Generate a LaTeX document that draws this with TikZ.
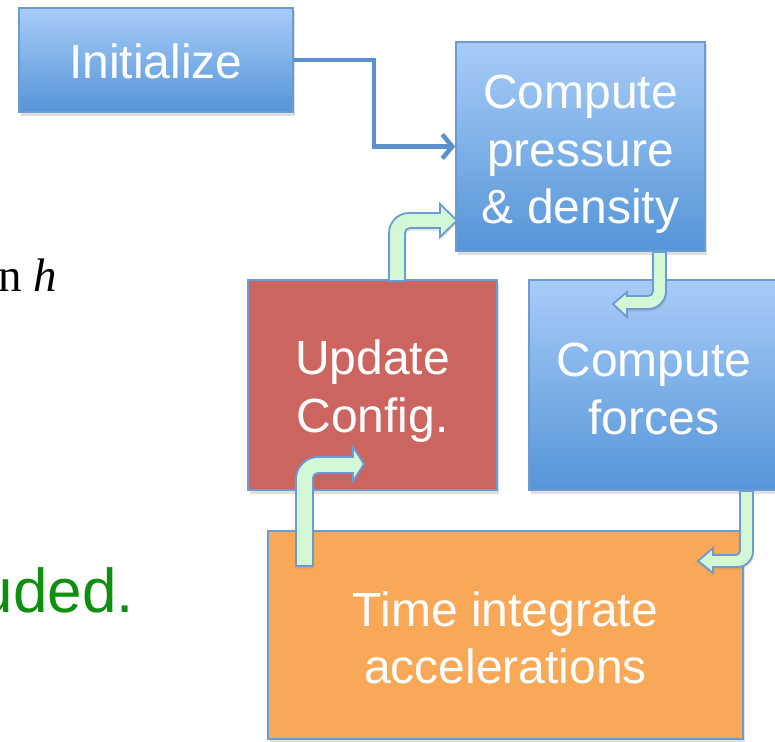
\documentclass[tikz,border=0pt]{standalone}
\usepackage{fontspec}
\setmainfont{Liberation Sans}
\newfontfamily\serifrm{Liberation Serif}
\usetikzlibrary{shadows,arrows.meta,calc}
\definecolor{bluetop}{HTML}{A8CCF8}
\definecolor{bluebot}{HTML}{5595D8}
\definecolor{bordblue}{HTML}{6B9BD2}
\definecolor{redbox}{HTML}{CC6560}
\definecolor{orangebox}{HTML}{F8A856}
\definecolor{greenarr}{HTML}{D3F8D5}
\definecolor{linkblue}{HTML}{5C90CC}
\definecolor{txtgreen}{HTML}{0E900E}
\begin{document}
\begin{tikzpicture}[x=1pt,y=-1pt,
  box/.style={rectangle, draw=bordblue, line width=1.5pt, inner sep=0pt,
    drop shadow={opacity=0.25, shadow xshift=1.5pt, shadow yshift=-3.5pt}},
  boxtext/.style={inner sep=0pt, text=white, align=center, font=\fontsize{48}{57.5}\selectfont},
  bluebox/.style={box, top color=bluetop, bottom color=bluebot},
  redbx/.style={box, fill=redbox},
  orbx/.style={box, fill=orangebox},
  blockarrow/.style={draw=bordblue, line width=1.8pt, fill=greenarr, line join=miter,
    drop shadow={opacity=0.22, shadow xshift=1pt, shadow yshift=-2.5pt}},
  conn/.style={draw=linkblue, line width=4.5pt, line join=miter,
    -{Straight Barb[length=10pt,width=24pt]}}
]
\useasboundingbox (0,0) rectangle (775,741);
\clip (0,0) rectangle (775,741);

% side texts (cut off by the picture edge)
\node[anchor=base west, inner sep=0pt, font=\serifrm\fontsize{47}{56}\selectfont] (sidea) at (-2,291) {n \textit{h}};
\node[anchor=base east, inner sep=0pt, text=txtgreen, font=\fontsize{62}{72}\selectfont] (sideb) at (134,612) {uded.};

% boxes
\node[bluebox, minimum width=274pt, minimum height=104pt] (init) at (156,60) {};
\node[bluebox, minimum width=249pt, minimum height=209pt] (press) at (580.5,146.5) {};
\node[redbx, minimum width=249pt, minimum height=210pt] (upd) at (372.5,385) {};
\node[bluebox, minimum width=250pt, minimum height=210pt] (forces) at (654,385) {};
\node[orbx, minimum width=475pt, minimum height=208pt] (time) at (505.5,635) {};

% box texts
\node[boxtext] (initt) at ($(init.center)+(0,1.5)$) {Initialize};
\node[boxtext] (presst) at ($(press.center)+(0,8)$) {Compute\\pressure\\\& density};
\node[boxtext] (updt) at ($(upd.center)+(0,6)$) {Update\\Config.};
\node[boxtext] (forcest) at ($(forces.center)+(0,4)$) {Compute\\forces};
\node[boxtext] (timet) at ($(time.center)+(0,3)$) {Time integrate\\accelerations};

% connector from Initialize
\draw[conn] (init.east) -- ++(80,0) |- (press.west);

% bent block arrows
% Update -> Compute pressure
\path[blockarrow] (389,281) -- (389,233) .. controls (389,222) and (398,213) .. (409,213)
  -- (440,213) -- (440,204) -- (457,220.5) -- (440,237) -- (440,228) -- (410,228)
  .. controls (407,228) and (405,230) .. (405,233) -- (405,281) -- cycle;
% Compute pressure -> Compute forces
\path[blockarrow] (653,252) -- (666,252) -- (666,291) .. controls (666,301) and (658,309) .. (648,309)
  -- (627,309) -- (627,317) -- (613,304) -- (627,292) -- (627,296) -- (648,296)
  .. controls (651,296) and (653,294) .. (653,291) -- cycle;
% Compute forces -> Time integrate
\path[blockarrow] (740,491) -- (753,491) -- (753,551) .. controls (753,560) and (746,567) .. (737,567)
  -- (713,567) -- (713,573) -- (698,561) -- (713,548) -- (713,555) -- (736,555)
  .. controls (738,555) and (740,553) .. (740,551) -- cycle;
% Time integrate -> Update
\path[blockarrow] (296,566) -- (296,479) .. controls (296,467) and (306,457) .. (318,457)
  -- (353,457) -- (353,447) -- (364,464) -- (353,481) -- (353,473) -- (318,473)
  .. controls (315,473) and (313,475) .. (313,478) -- (313,566) -- cycle;
\end{tikzpicture}
\end{document}
